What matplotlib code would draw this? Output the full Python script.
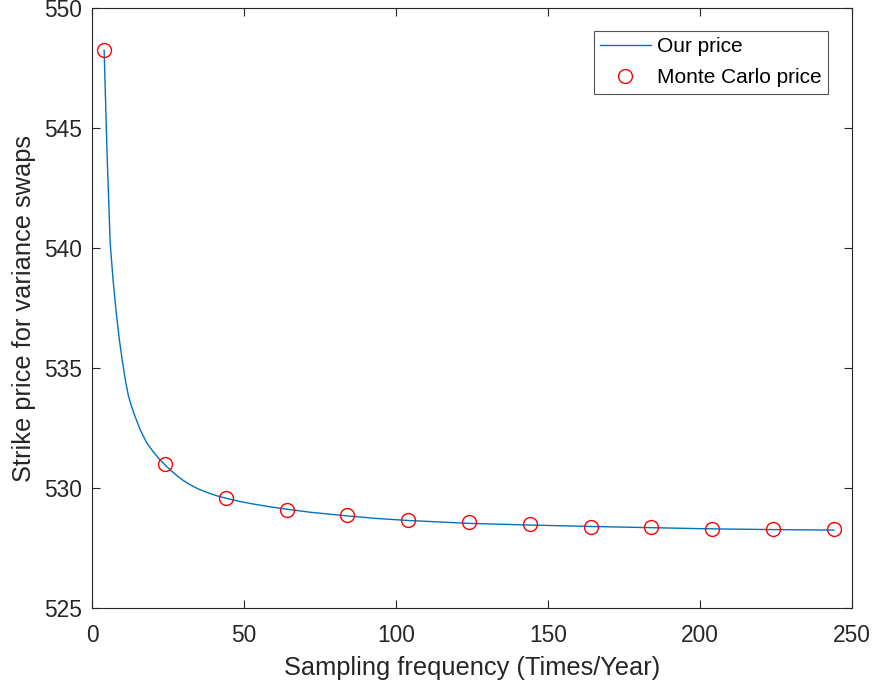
import numpy as np
import matplotlib
matplotlib.use("Agg")
from matplotlib import pyplot as plt

# values
line_x = [4, 5, 6, 7, 8, 9, 10, 11, 12, 13, 14, 16, 18, 20, 22, 24, 26, 28,
          30, 32, 35, 38, 41, 44, 48, 52, 58, 64, 72, 84, 94, 104, 124, 144,
          164, 184, 204, 224, 244]
line_y = [548.25, 543.8, 540.2, 538.6, 537.3, 536.2, 535.3, 534.5, 533.85,
          533.42, 533.05, 532.4, 531.9, 531.55, 531.24, 530.98, 530.74,
          530.52, 530.33, 530.17, 529.97, 529.82, 529.69, 529.59, 529.47,
          529.37, 529.24, 529.13, 529.0, 528.85, 528.74, 528.66, 528.54,
          528.47, 528.41, 528.36, 528.31, 528.28, 528.26]

mc_x = [4, 24, 44, 64, 84, 104, 124, 144, 164, 184, 204, 224, 244]
mc_y = [548.25, 531.0, 529.6, 529.1, 528.88, 528.66, 528.6, 528.52, 528.38,
        528.38, 528.31, 528.31, 528.31]

plt.rcParams['font.family'] = ['Liberation Sans', 'DejaVu Sans']
dark = '#262626'

fig = plt.figure(figsize=(8.75, 6.89), dpi=100)
ax = fig.add_axes([0.1051, 0.1171, 0.8686, 0.8709])

ax.plot(line_x, line_y, color='#0072BD', lw=1.0, label='Our price')
ax.plot(mc_x, mc_y, 'o', mfc='none', mec='red', ms=10, mew=1.0,
        label='Monte Carlo price')

ax.set_xlim(0, 250)
ax.set_ylim(525, 550)
ax.set_xticks([0, 50, 100, 150, 200, 250])
ax.set_yticks([525, 530, 535, 540, 545, 550])
ax.tick_params(direction='in', top=True, right=True, length=6, width=0.8,
               colors=dark, labelsize=16.4)
ax.tick_params(axis='x', pad=11)
ax.tick_params(axis='y', pad=7)
for s in ax.spines.values():
    s.set_color(dark)
    s.set_linewidth(0.8)

ax.set_xlabel('Sampling frequency (Times/Year)', fontsize=18.3, color=dark,
              labelpad=7)
ax.set_ylabel('Strike price for variance swaps', fontsize=18.3, color=dark,
              labelpad=6)

leg = ax.legend(loc='upper right', bbox_to_anchor=(0.9685, 0.962), fontsize=15,
                frameon=True, fancybox=False, edgecolor=dark, borderpad=0.3,
                handlelength=2.45, handletextpad=0.3, labelspacing=0.58,
                borderaxespad=0)
leg.get_frame().set_linewidth(0.8)

fig.savefig('out.png', dpi=100)
